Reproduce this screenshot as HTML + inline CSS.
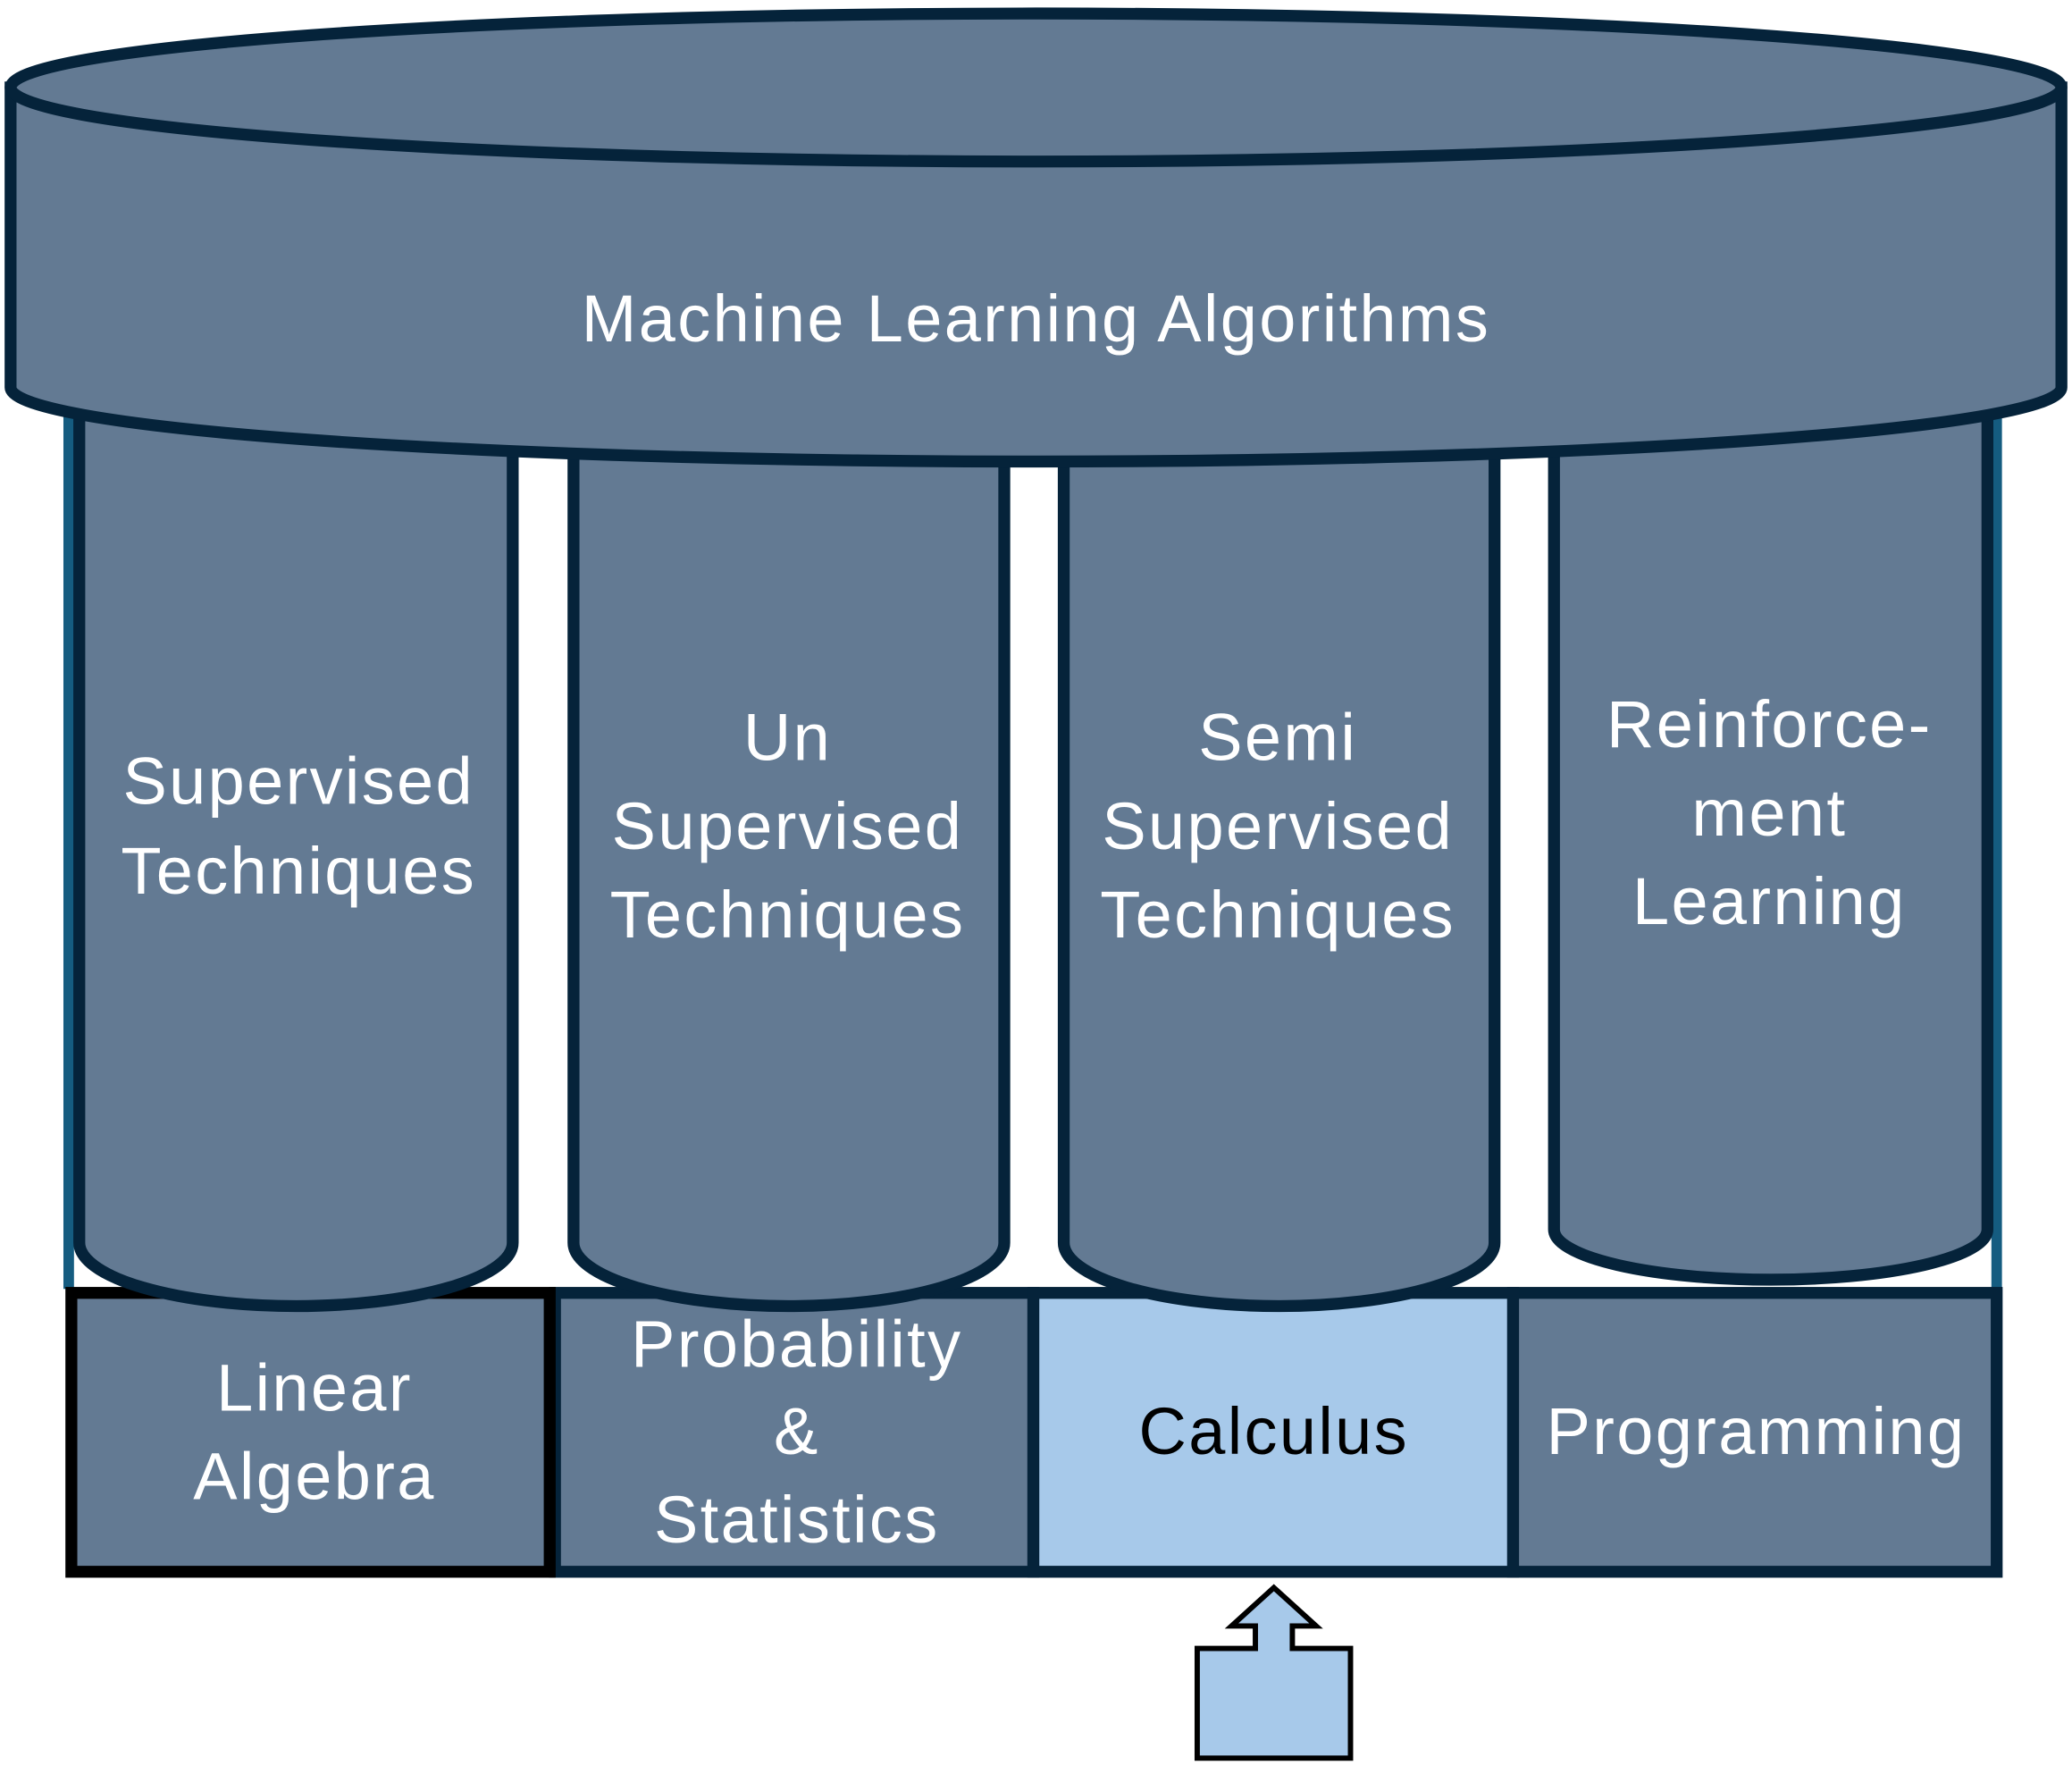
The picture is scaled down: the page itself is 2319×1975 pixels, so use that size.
<!DOCTYPE html>
<html><head><meta charset="utf-8"><style>
html,body{margin:0;padding:0;background:#fff;}
svg{display:block;}
text{font-family:"Liberation Sans",sans-serif;font-size:50px;letter-spacing:1.6px;text-anchor:middle;fill:#fff;}
</style></head><body>
<svg width="2319" height="1975" viewBox="0 0 1568 1335" xmlns="http://www.w3.org/2000/svg">
<rect width="1568" height="1335" fill="#fff"/>
<line x1="52" y1="310" x2="52" y2="975" stroke="#155c80" stroke-width="8"/>
<line x1="1511" y1="310" x2="1511" y2="975" stroke="#155c80" stroke-width="8"/>
<rect x="420" y="978" width="362" height="211" fill="#637a93" stroke="#05233a" stroke-width="9"/>
<rect x="1145" y="978" width="366" height="211" fill="#637a93" stroke="#05233a" stroke-width="9"/>
<rect x="782" y="978" width="363" height="211" fill="#a7c9ea" stroke="#05233a" stroke-width="9"/>
<rect x="54" y="978" width="362" height="211" fill="#637a93" stroke="#000" stroke-width="9"/>
<g fill="#637a93" stroke="#05233a" stroke-width="9">
<path d="M60,250 L60,940 A164,48 0 0 0 388,940 L388,250 Z"/>
<path d="M434,250 L434,940 A163,48 0 0 0 760,940 L760,250 Z"/>
<path d="M805,250 L805,940 A163,48 0 0 0 1131,940 L1131,250 Z"/>
<path d="M1176,250 L1176,930 A164,38 0 0 0 1504,930 L1504,250 Z"/>
</g>
<path d="M8,66 L8,293 A776,56 0 0 0 1560,293 L1560,66 Z" fill="#637a93" stroke="#05233a" stroke-width="9"/>
<ellipse cx="784" cy="66" rx="776" ry="56" fill="#637a93" stroke="#05233a" stroke-width="9"/>
<path d="M964,1201 L996,1230 L978,1230 L978,1247 L1022,1247 L1022,1330 L906,1330 L906,1247 L950,1247 L950,1230 L932,1230 Z" fill="#a7c9ea" stroke="#000" stroke-width="4"/>
<text x="784" y="258">Machine Learning Algorithms</text>
<text x="226" y="608">Supervised</text>
<text x="226" y="676">Techniques</text>
<text x="596" y="575">Un</text>
<text x="596" y="642">Supervised</text>
<text x="596" y="709">Techniques</text>
<text x="967" y="575">Semi</text>
<text x="967" y="642">Supervised</text>
<text x="967" y="709">Techniques</text>
<text x="1339" y="565">Reinforce-</text>
<text x="1339" y="632">ment</text>
<text x="1339" y="699">Learning</text>
<text x="238" y="1067">Linear</text>
<text x="238" y="1134">Algebra</text>
<text x="603" y="1034">Probability</text>
<text x="603" y="1100">&amp;</text>
<text x="603" y="1167">Statistics</text>
<text x="964" y="1100" style="fill:#000">Calculus</text>
<text x="1329" y="1100">Programming</text>
</svg>
</body></html>
